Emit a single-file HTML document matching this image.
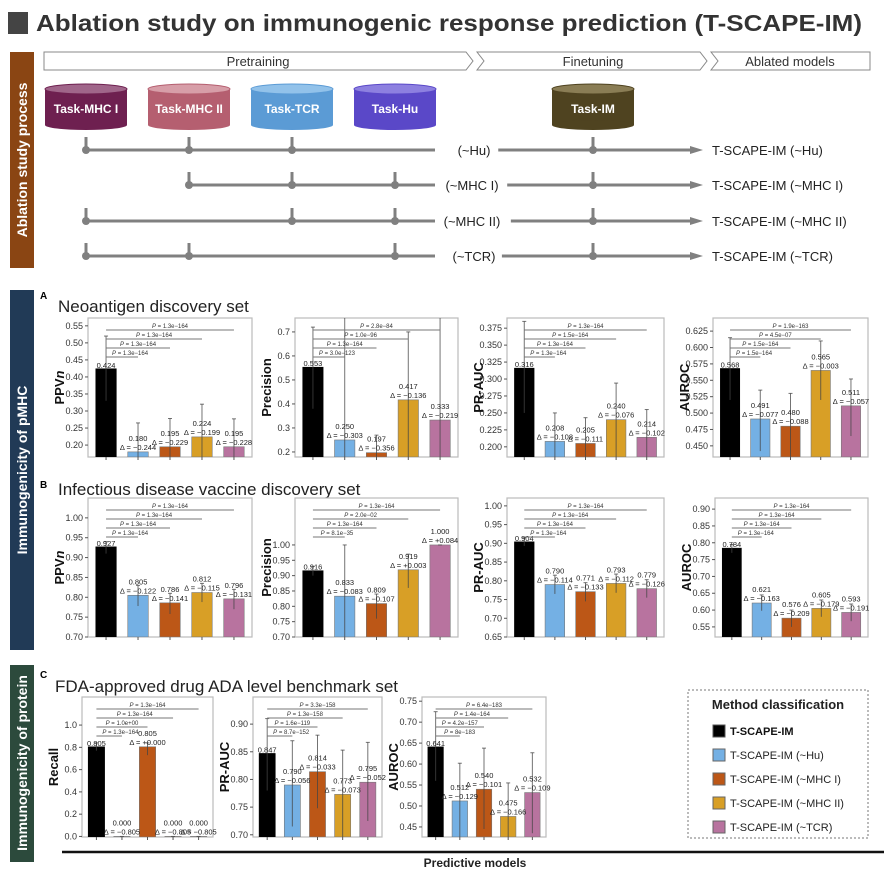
<!DOCTYPE html>
<html><head><meta charset="utf-8">
<style>
body{margin:0;background:#fff;}
svg{display:block;font-family:"Liberation Sans",sans-serif;}
</style></head>
<body>
<svg id="fig" width="884" height="883" viewBox="0 0 884 883" xmlns="http://www.w3.org/2000/svg">
<rect width="884" height="883" fill="#fff"/>
<!-- Title -->
<rect x="8" y="12" width="20" height="22" fill="#444"/>
<text x="36" y="31" font-size="23" font-weight="bold" fill="#333" textLength="826" lengthAdjust="spacingAndGlyphs">Ablation study on immunogenic response prediction (T-SCAPE-IM)</text>

<!-- side bands -->
<g>
<rect x="10" y="52" width="24" height="216" fill="#8a4513"/>
<text transform="translate(27,160) rotate(-90)" text-anchor="middle" font-size="14" font-weight="bold" fill="#fff">Ablation study process</text>
</g>
<g>
<rect x="10" y="290" width="24" height="360" fill="#213a56"/>
<text transform="translate(27,470) rotate(-90)" text-anchor="middle" font-size="14" font-weight="bold" fill="#fff">Immunogenicity of pMHC</text>
</g>
<g>
<rect x="10" y="665" width="24" height="197" fill="#2c4a3c"/>
<text transform="translate(27,763) rotate(-90)" text-anchor="middle" font-size="14" font-weight="bold" fill="#fff">Immunogenicity of protein</text>
</g>

<!-- chevrons -->
<g fill="#fff" stroke="#888" stroke-width="1">
<polygon points="44,52 466,52 473,61 466,70 44,70"/>
<polygon points="477,52 700,52 707,61 700,70 477,70 484,61"/>
<polygon points="711,52 870,52 870,70 711,70 718,61"/>
</g>
<text x="258" y="66" text-anchor="middle" font-size="13" fill="#333">Pretraining</text>
<text x="593" y="66" text-anchor="middle" font-size="13" fill="#333">Finetuning</text>
<text x="790" y="66" text-anchor="middle" font-size="13" fill="#333">Ablated models</text>

<g id="diagram"></g>

<!-- section labels -->
<text x="40" y="299" font-size="10" font-weight="bold" fill="#000">A</text>
<text x="58" y="312" font-size="17" fill="#222">Neoantigen discovery set</text>
<text x="40" y="488" font-size="10" font-weight="bold" fill="#000">B</text>
<text x="58" y="495" font-size="17" fill="#222">Infectious disease vaccine discovery set</text>
<text x="40" y="678" font-size="10" font-weight="bold" fill="#000">C</text>
<text x="55" y="692" font-size="17" fill="#222">FDA-approved drug ADA level benchmark set</text>

<g id="charts"></g>

<!-- legend -->
<g>
<rect x="688" y="690" width="180" height="148" fill="#fff" stroke="#777" stroke-dasharray="2,2"/>
<text x="778" y="709" text-anchor="middle" font-size="13" font-weight="bold" fill="#222">Method classification</text>
<g><rect x="713" y="725" width="12" height="12" fill="#000" stroke="#555"/><text x="730" y="735" font-size="11" font-weight="bold" fill="#111">T-SCAPE-IM</text></g>
<g><rect x="713" y="749" width="12" height="12" fill="#74b0e4" stroke="#666"/><text x="730" y="759" font-size="11" fill="#222">T-SCAPE-IM (~Hu)</text></g>
<g><rect x="713" y="773" width="12" height="12" fill="#bc5717" stroke="#666"/><text x="730" y="783" font-size="11" fill="#222">T-SCAPE-IM (~MHC I)</text></g>
<g><rect x="713" y="797" width="12" height="12" fill="#d89f26" stroke="#666"/><text x="730" y="807" font-size="11" fill="#222">T-SCAPE-IM (~MHC II)</text></g>
<g><rect x="713" y="821" width="12" height="12" fill="#b8739f" stroke="#666"/><text x="730" y="831" font-size="11" fill="#222">T-SCAPE-IM (~TCR)</text></g>
</g>

<line x1="62" y1="852" x2="884" y2="852" stroke="#111" stroke-width="2.5"/>
<text x="475" y="867" text-anchor="middle" font-size="12" font-weight="bold" fill="#222">Predictive models</text>
</svg>

<script>
// ===== Chart data =====
const models = ["T-SCAPE-IM","T-SCAPE-IM (~Hu)","T-SCAPE-IM (~MHC I)","T-SCAPE-IM (~MHC II)","T-SCAPE-IM (~TCR)"];
const a1Values = [0.424,0.180,0.195,0.224,0.195];
const a1High = [0.52,0.265,0.278,0.32,0.277];
const a1Low = [0.33,0.10,0.11,0.13,0.11];
const a1Deltas = ["","−0.244","−0.229","−0.199","−0.228"];
const a1P = ["1.3e−164","1.3e−164","1.3e−164","1.3e−164"];
const a1Ticks = [0.20,0.25,0.30,0.35,0.40,0.45,0.50,0.55];

const a2Values = [0.553,0.250,0.197,0.417,0.333];
const a2High = [0.72,0.76,0.27,0.70,0.76];
const a2Low = [0.38,0.10,0.12,0.10,0.10];
const a2Deltas = ["","−0.303","−0.356","−0.136","−0.219"];
const a2P = ["3.0e−123","1.3e−164","1.0e−96","2.8e−84"];
const a2Ticks = [0.2,0.3,0.4,0.5,0.6,0.7];

const a3Values = [0.316,0.208,0.205,0.240,0.214];
const a3High = [0.385,0.250,0.243,0.294,0.255];
const a3Low = [0.25,0.16,0.17,0.185,0.17];
const a3Deltas = ["","−0.108","−0.111","−0.076","−0.102"];
const a3P = ["1.3e−164","1.3e−164","1.5e−164","1.3e−164"];
const a3Ticks = [0.200,0.225,0.250,0.275,0.300,0.325,0.350,0.375];

const a4Values = [0.568,0.491,0.480,0.565,0.511];
const a4High = [0.615,0.535,0.530,0.610,0.552];
const a4Low = [0.52,0.442,0.43,0.52,0.465];
const a4Deltas = ["","−0.077","−0.088","−0.003","−0.057"];
const a4P = ["1.5e−164","1.5e−164","4.5e−07","1.9e−163"];
const a4Ticks = [0.450,0.475,0.500,0.525,0.550,0.575,0.600,0.625];

const b1Values = [0.927,0.805,0.786,0.812,0.796];
const b1High = [0.94,0.83,0.81,0.835,0.82];
const b1Low = [0.91,0.778,0.758,0.788,0.77];
const b1Deltas = ["","−0.122","−0.141","−0.115","−0.131"];
const b1P = ["1.3e−164","1.3e−164","1.3e−164","1.3e−164"];
const b1Ticks = [0.70,0.75,0.80,0.85,0.90,0.95,1.00];

const b2Values = [0.916,0.833,0.809,0.919,1.000];
const b2High = [0.93,1.00,0.84,0.97,1.0];
const b2Low = [0.90,0.70,0.76,0.86,1.0];
const b2Deltas = ["","−0.083","−0.107","+0.003","+0.084"];
const b2P = ["8.1e−35","1.3e−164","2.0e−02","1.3e−164"];
const b2Ticks = [0.70,0.75,0.80,0.85,0.90,0.95,1.00];

const b3Values = [0.904,0.790,0.771,0.793,0.779];
const b3High = [0.915,0.815,0.795,0.818,0.803];
const b3Low = [0.893,0.765,0.745,0.768,0.755];
const b3Deltas = ["","−0.114","−0.133","−0.112","−0.126"];
const b3P = ["1.3e−164","1.3e−164","1.3e−164","1.3e−164"];
const b3Ticks = [0.65,0.70,0.75,0.80,0.85,0.90,0.95,1.00];

const b4Values = [0.784,0.621,0.576,0.605,0.593];
const b4High = [0.795,0.645,0.60,0.63,0.618];
const b4Low = [0.77,0.598,0.55,0.58,0.567];
const b4Deltas = ["","−0.163","−0.209","−0.179","−0.191"];
const b4P = ["1.3e−164","1.3e−164","1.3e−164","1.3e−164"];
const b4Ticks = [0.55,0.60,0.65,0.70,0.75,0.80,0.85,0.90];

const c1Values = [0.805,0.000,0.805,0.000,0.000];
const c1High = [0.84,0,0.84,0,0];
const c1Low = [0.77,0,0.73,0,0];
const c1Deltas = ["","−0.805","+0.000","−0.805","−0.805"];
const c1P = ["1.3e−164","1.0e+00","1.3e−164","1.3e−164"];
const c1Ticks = [0.0,0.2,0.4,0.6,0.8,1.0];

const c2Values = [0.847,0.790,0.814,0.773,0.795];
const c2High = [0.91,0.87,0.88,0.853,0.867];
const c2Low = [0.78,0.715,0.748,0.69,0.725];
const c2Deltas = ["","−0.056","−0.033","−0.073","−0.052"];
const c2P = ["8.7e−152","1.6e−119","1.3e−158","3.3e−158"];
const c2Ticks = [0.70,0.75,0.80,0.85,0.90];

const c3Values = [0.641,0.512,0.540,0.475,0.532];
const c3High = [0.725,0.602,0.638,0.555,0.627];
const c3Low = [0.56,0.42,0.445,0.40,0.435];
const c3Deltas = ["","−0.129","−0.101","−0.166","−0.109"];
const c3P = ["8e−183","4.2e−157","1.4e−164","6.4e−183"];
const c3Ticks = [0.45,0.50,0.55,0.60,0.65,0.70,0.75];

const colors = ["#000000","#74b0e4","#bc5717","#d89f26","#b8739f"];
const NS = "http://www.w3.org/2000/svg";
function mk(tag, attrs, parent){const e=document.createElementNS(NS,tag);for(const k in attrs)e.setAttribute(k,attrs[k]);if(parent)parent.appendChild(e);return e;}

// ===== Diagram =====
(function(){
  const g = document.getElementById('diagram');
  const cyl = [["Task-MHC I",86,"#6e2050","#a0668a"],["Task-MHC II",189,"#b55f70","#d79ea8"],["Task-TCR",292,"#5b9bd5","#92c2ea"],["Task-Hu",395,"#5a48c8","#8d80e0"],["Task-IM",593,"#4f4320","#8a7d55"]];
  cyl.forEach(c=>{
    const cg = mk('g',{},g);
    
    
    const x=c[1]-41,w=82;
    mk('rect',{x:x,y:89,width:w,height:36,fill:c[2]},cg);
    mk('ellipse',{cx:c[1],cy:125,rx:41,ry:5,fill:c[2]},cg);
    mk('ellipse',{cx:c[1],cy:89,rx:41,ry:5,fill:c[3],stroke:c[2]},cg);
    const t=mk('text',{x:c[1],y:113,'text-anchor':'middle','font-size':12,'font-weight':'bold',fill:'#fff'},cg);t.textContent=c[0];
  });
  const rows=[["(~Hu)",150,[86,189,292],86,474],["(~MHC I)",185,[189,292,395],189,472],["(~MHC II)",221,[86,292,395],86,472],["(~TCR)",256,[86,189,395],86,474]];
  rows.forEach(r=>{
    const rg=mk('g',{},g);
    
    
    const y=r[1];
    mk('line',{x1:r[3],y1:y,x2:435,y2:y,stroke:'#808080','stroke-width':3},rg);
    const w=r[0].length*7.3;
    mk('line',{x1:r[4]+w/2+6,y1:y,x2:695,y2:y,stroke:'#808080','stroke-width':3},rg);
    mk('polygon',{points:`690,${y-4} 703,${y} 690,${y+4}`,fill:'#808080'},rg);
    r[2].concat([593]).forEach(x=>{
      mk('line',{x1:x,y1:y-13,x2:x,y2:y,stroke:'#808080','stroke-width':3},rg);
      mk('circle',{cx:x,cy:y,r:4,fill:'#808080'},rg);
    });
    const t=mk('text',{x:r[4],y:y+5,'text-anchor':'middle','font-size':13,fill:'#222'},rg);t.textContent=r[0];
    const t2=mk('text',{x:712,y:y+5,'font-size':13,fill:'#222'},rg);t2.textContent='T-SCAPE-IM '+r[0];
  });
})();

// ===== Charts =====
const chartList = [
 {id:'a1',x0:88,x1:252,y0:318,y1:457,min:0.165,max:0.573,dec:2,label:'PPV',ital:true,values:a1Values,high:a1High,low:a1Low,deltas:a1Deltas,p:a1P,ticks:a1Ticks},
 {id:'a2',x0:295,x1:458,y0:318,y1:457,min:0.179,max:0.758,dec:1,label:'Precision',values:a2Values,high:a2High,low:a2Low,deltas:a2Deltas,p:a2P,ticks:a2Ticks},
 {id:'a3',x0:507,x1:664,y0:318,y1:457,min:0.185,max:0.390,dec:3,label:'PR-AUC',values:a3Values,high:a3High,low:a3Low,deltas:a3Deltas,p:a3P,ticks:a3Ticks},
 {id:'a4',x0:713,x1:868,y0:318,y1:457,min:0.433,max:0.645,dec:3,label:'AUROC',values:a4Values,high:a4High,low:a4Low,deltas:a4Deltas,p:a4P,ticks:a4Ticks},
 {id:'b1',x0:88,x1:252,y0:498,y1:637,min:0.70,max:1.05,dec:2,label:'PPV',ital:true,values:b1Values,high:b1High,low:b1Low,deltas:b1Deltas,p:b1P,ticks:b1Ticks},
 {id:'b2',x0:295,x1:458,y0:498,y1:637,min:0.70,max:1.153,dec:2,label:'Precision',values:b2Values,high:b2High,low:b2Low,deltas:b2Deltas,p:b2P,ticks:b2Ticks},
 {id:'b3',x0:507,x1:664,y0:498,y1:637,min:0.65,max:1.021,dec:2,label:'PR-AUC',values:b3Values,high:b3High,low:b3Low,deltas:b3Deltas,p:b3P,ticks:b3Ticks},
 {id:'b4',x0:715,x1:868,y0:498,y1:637,min:0.52,max:0.933,dec:2,label:'AUROC',values:b4Values,high:b4High,low:b4Low,deltas:b4Deltas,p:b4P,ticks:b4Ticks},
 {id:'c1',x0:82,x1:213,y0:697,y1:837,min:-0.005,max:1.252,dec:1,label:'Recall',values:c1Values,high:c1High,low:c1Low,deltas:c1Deltas,p:c1P,ticks:c1Ticks},
 {id:'c2',x0:253,x1:382,y0:697,y1:837,min:0.696,max:0.949,dec:2,label:'PR-AUC',values:c2Values,high:c2High,low:c2Low,deltas:c2Deltas,p:c2P,ticks:c2Ticks},
 {id:'c3',x0:422,x1:546,y0:697,y1:837,min:0.426,max:0.760,dec:2,label:'AUROC',values:c3Values,high:c3High,low:c3Low,deltas:c3Deltas,p:c3P,ticks:c3Ticks}
];

function drawChart(c){
  const root=document.getElementById('charts');
  const g=mk('g',{},root);
  
  
  const W=c.x1-c.x0;
  const ys=v=>c.y1-(v-c.min)/(c.max-c.min)*(c.y1-c.y0);
  const xs=i=>c.x0+W*(0.11+0.195*i);
  const bw=W*0.125;
  const cp=mk('clipPath',{id:'clip-'+c.id},g);
  mk('rect',{x:c.x0,y:c.y0,width:W,height:c.y1-c.y0},cp);
  mk('rect',{x:c.x0,y:c.y0,width:W,height:c.y1-c.y0,fill:'#fff',stroke:'#bbb','stroke-width':1.2},g);
  c.ticks.forEach(t=>{
    const y=ys(t);
    mk('line',{x1:c.x0-3,y1:y,x2:c.x0,y2:y,stroke:'#555'},g);
    const tx=mk('text',{x:c.x0-5,y:y+3,'text-anchor':'end','font-size':9,fill:'#333'},g);
    
    
    tx.textContent=t.toFixed(c.dec);
  });
  const yl=mk('text',{transform:`translate(${c.x0-24},${(c.y0+c.y1)/2}) rotate(-90)`,'text-anchor':'middle','font-size':13,'font-weight':'bold',fill:'#111'},g);
  
  
  yl.textContent=c.label;
  if(c.ital){const ts=mk('tspan',{'font-style':'italic'},yl);ts.textContent='n';}
  const cg=mk('g',{'clip-path':`url(#clip-${c.id})`},g);
  c.values.forEach((v,i)=>{
    const x=xs(i), y=ys(v), yb=ys(Math.max(c.min,Math.min(v,c.max)));
    const bar=mk('rect',{x:x-bw/2,y:yb,width:bw,height:Math.max(0,c.y1-yb),fill:colors[i],stroke:i===0?'#000':'#777','stroke-width':0.6},cg);
    
    
    mk('line',{x1:x,y1:ys(c.high[i]),x2:x,y2:ys(c.low[i]),stroke:'#444','stroke-opacity':0.75,'stroke-width':1},cg);
    mk('line',{x1:x-2,y1:ys(c.high[i]),x2:x+2,y2:ys(c.high[i]),stroke:'#444','stroke-opacity':0.75},cg);
    mk('line',{x1:x,y1:c.y1,x2:x,y2:c.y1+3,stroke:'#555'},g);
    if(i===0){
      const t=mk('text',{x:x,y:y-1,'text-anchor':'middle','font-size':7.5,fill:'#222'},g);t.textContent=v.toFixed(3);
    }else{
      const t=mk('text',{x:x,y:y-11,'text-anchor':'middle','font-size':7.5,fill:'#222'},g);t.textContent=v.toFixed(3);
      const d=mk('text',{x:x,y:y-2,'text-anchor':'middle','font-size':7.5,fill:'#222'},g);d.textContent='Δ = '+c.deltas[i];
    }
  });
  c.p.forEach((p,k)=>{
    const i=k+1;
    const ly=c.y0+12+9*(4-i);
    const xa=xs(0), xb=xs(i);
    const br=mk('line',{x1:xa,y1:ly,x2:xb,y2:ly,stroke:'#777','stroke-width':1},g);
    
    
    const cx=Math.max((xa+xb)/2,xa+24);
    const t=mk('text',{x:cx,y:ly-2,'text-anchor':'middle','font-size':6,fill:'#333'},g);
    t.innerHTML='<tspan font-style="italic">P</tspan> = '+p;
  });
}
chartList.forEach(drawChart);
</script>
</body></html>
